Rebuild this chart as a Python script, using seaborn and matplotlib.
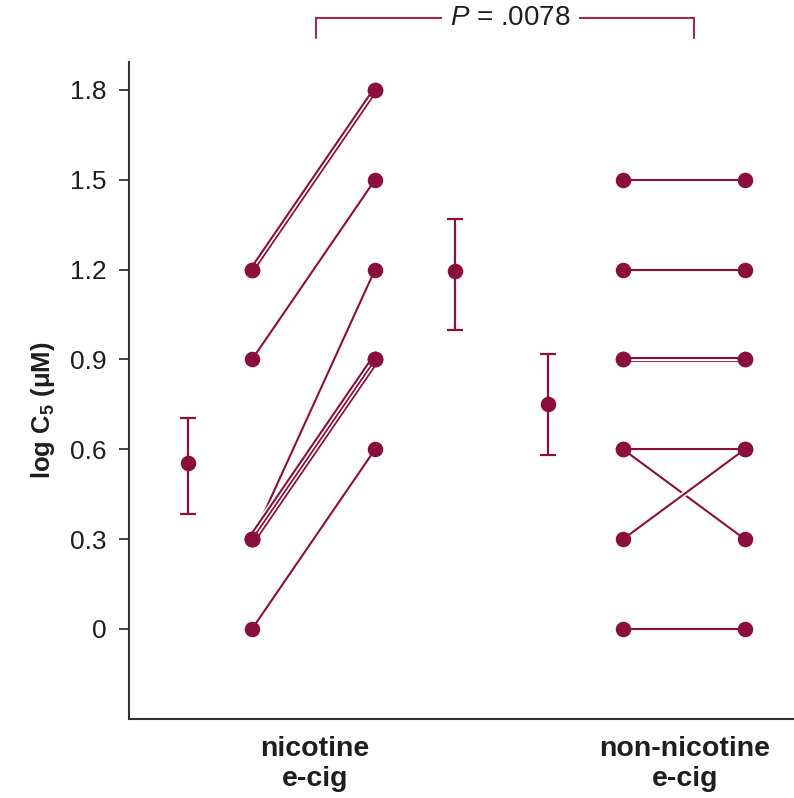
import numpy as np
import pandas as pd
import matplotlib
matplotlib.use("Agg")
import matplotlib.pyplot as plt
import matplotlib.patheffects as pe
import matplotlib.transforms as mtransforms
import seaborn as sns

# ---- data: paired log C5 values (before, after) per subject ----
nic_before = [1.2, 1.2, 0.9, 0.3, 0.3, 0.3, 0.3, 0.0]
nic_after = [1.8, 1.8, 1.5, 1.2, 0.9, 0.9, 0.9, 0.6]
non_before = [1.5, 1.2, 0.9, 0.9, 0.6, 0.6, 0.3, 0.0]
non_after = [1.5, 1.2, 0.9, 0.9, 0.6, 0.3, 0.6, 0.0]

# group summaries: mean with lower / upper error limits
summary_labels = ["nicotine before", "nicotine after", "non-nicotine"]
summary_mean = [0.555, 1.195, 0.75]
summary_low = [0.385, 1.0, 0.58]
summary_high = [0.705, 1.37, 0.92]

group_labels = ["nicotine\ne-cig", "non-nicotine\ne-cig"]
y_ticks = [0, 0.3, 0.6, 0.9, 1.2, 1.5, 1.8]
y_tick_labels = ["0", "0.3", "0.6", "0.9", "1.2", "1.5", "1.8"]
p_text = r"$\it{P}$ = .0078"

# ---- layout (horizontal positions on the x axis) ----
X_NIC = (1.85, 3.70)
X_NON = (7.43, 9.26)
X_SUMMARY = [0.887, 4.90, 6.30]
X_GROUP = [2.80, 8.36]
BRACKET_X = (2.81, 8.50)

COLOR = "#8a0f3d"
BRACKET_COLOR = "#a3284f"
TEXT = "#1e1e1e"

sns.set_theme(style="ticks")
plt.rcParams["font.family"] = ["Liberation Sans", "DejaVu Sans"]
plt.rcParams["mathtext.fontset"] = "custom"
plt.rcParams["mathtext.rm"] = "Liberation Sans"
plt.rcParams["mathtext.it"] = "Liberation Sans:italic"
plt.rcParams["mathtext.bf"] = "Liberation Sans:bold"

fig = plt.figure(figsize=(7.94, 7.98), dpi=100)
ax = fig.add_axes([129 / 794, 79 / 798, 665 / 794, 657 / 798])
ax.set_xlim(0, 10)
ax.set_ylim(-0.3006, 1.8935)


def pair_frame(before, after, xs, group):
    rows = []
    for i, (b, a) in enumerate(zip(before, after)):
        rows.append(dict(group=group, subject=i, x=xs[0], y=b))
        rows.append(dict(group=group, subject=i, x=xs[1], y=a))
    return pd.DataFrame(rows)


pairs = pd.concat([pair_frame(nic_before, nic_after, X_NIC, "nic"),
                   pair_frame(non_before, non_after, X_NON, "non")],
                  ignore_index=True)

halo = [pe.Stroke(linewidth=3.8, foreground="white"), pe.Normal()]

# trajectories keyed by (group, start, end) so coincident ones can be nudged apart
traj = {}
for (grp, subj), sub in pairs.groupby(["group", "subject"]):
    ys = tuple(sub.sort_values("x")["y"].tolist())
    traj.setdefault((grp,) + ys, []).append(subj)

# connecting lines; coincident pairs are offset perpendicular to the line
for (grp, subj), sub in pairs.groupby(["group", "subject"]):
    sub = sub.sort_values("x")
    ya, yb = sub["y"].tolist()
    members = traj[(grp, ya, yb)]
    n, k = len(members), members.index(subj)
    shift = (k - (n - 1) / 2) * 3.4  # pixels
    p0 = ax.transData.transform((sub["x"].iloc[0], ya))
    p1 = ax.transData.transform((sub["x"].iloc[1], yb))
    d = p1 - p0
    perp = np.array([-d[1], d[0]]) / np.hypot(*d)
    off = mtransforms.Affine2D().translate(*(perp * shift))
    sns.lineplot(data=sub, x="x", y="y", ax=ax, color=COLOR, lw=1.5,
                 estimator=None, sort=False, legend=False,
                 transform=ax.transData + off, path_effects=halo, zorder=2)

# subject points
sns.scatterplot(data=pairs, x="x", y="y", ax=ax, color=COLOR, s=125,
                linewidth=0, legend=False, zorder=4)

# group means with error bars
summ = pd.DataFrame(dict(label=summary_labels, x=X_SUMMARY, mean=summary_mean,
                         low=summary_low, high=summary_high))
yerr = np.vstack([summ["mean"] - summ["low"], summ["high"] - summ["mean"]])
ax.errorbar(summ["x"], summ["mean"], yerr=yerr, fmt="none", ecolor=COLOR,
            elinewidth=1.6, capsize=6, capthick=1.6, zorder=3)
sns.scatterplot(data=summ, x="x", y="mean", ax=ax, color=COLOR, s=125,
                linewidth=0, legend=False, zorder=4)

# axes styling
ax.set_yticks(y_ticks)
ax.set_yticklabels(y_tick_labels, fontsize=19, color=TEXT)
ax.tick_params(axis="y", direction="out", length=7, width=1.3, color="#333333", pad=9)
ax.set_xticks(X_GROUP)
ax.set_xticklabels(group_labels, fontsize=20.5, fontweight="bold", color=TEXT,
                   linespacing=1.22)
ax.tick_params(axis="x", length=0, pad=12)
ax.set_xlabel("")
ax.set_ylabel(r"log $\mathbf{C}_\mathbf{5}$ (μM)", fontsize=18.5, fontweight="bold",
              color=TEXT)
ax.yaxis.set_label_coords(-0.108, 0.47)
for side in ("top", "right"):
    ax.spines[side].set_visible(False)
for side in ("left", "bottom"):
    ax.spines[side].set_color("#333333")
    ax.spines[side].set_linewidth(1.5)

# significance bracket
yb_top, yb_tick = 2.04, 1.974
ax.plot([BRACKET_X[0], BRACKET_X[0], BRACKET_X[1], BRACKET_X[1]],
        [yb_tick, yb_top, yb_top, yb_tick], color=BRACKET_COLOR, lw=1.5,
        clip_on=False, solid_joinstyle="miter")
ax.text(5.74, yb_top, p_text, fontsize=20, color=TEXT,
        ha="center", va="center", clip_on=False,
        bbox=dict(boxstyle="square,pad=0.3", fc="white", ec="none"))

fig.savefig("out.png", dpi=100, facecolor="white")
